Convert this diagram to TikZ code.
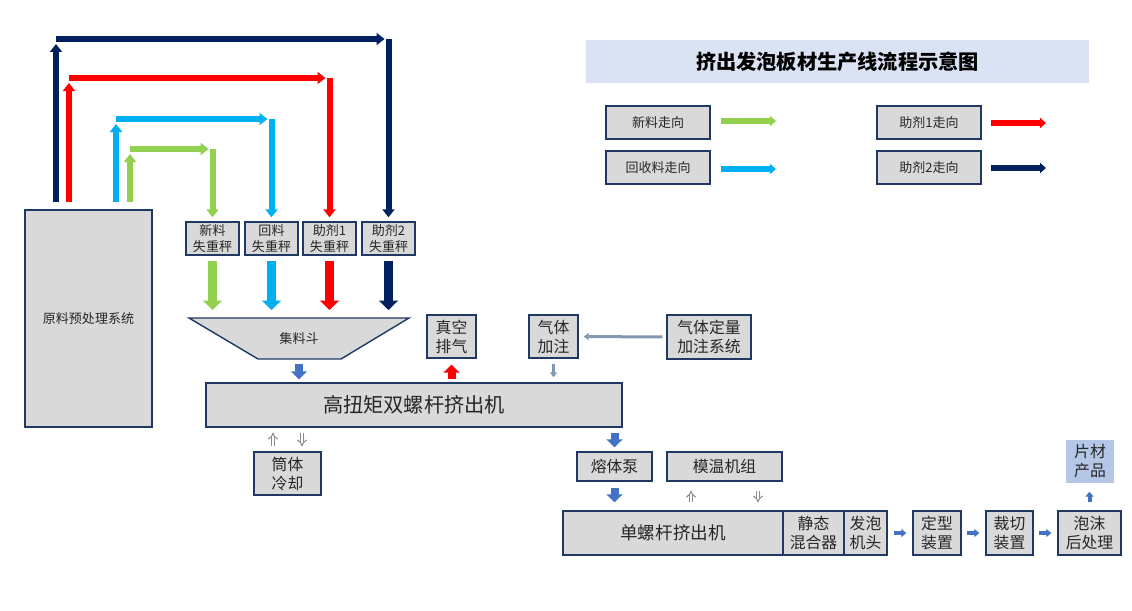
\documentclass[tikz,border=0pt]{standalone}
\usepackage{fontspec}
\setmainfont{Noto Sans CJK SC}
\usetikzlibrary{arrows.meta}
\definecolor{newgreen}{HTML}{92D050}
\definecolor{recblue}{HTML}{00B0F0}
\definecolor{addred}{HTML}{FF0000}
\definecolor{addnavy}{HTML}{002060}
\definecolor{flowblue}{HTML}{4472C4}
\definecolor{boxgray}{HTML}{D9D9D9}
\definecolor{boxline}{HTML}{203864}
\definecolor{gasgray}{HTML}{8497B0}
\definecolor{titlebg}{HTML}{DAE3F3}
\definecolor{productbg}{HTML}{B4C7E7}
\begin{document}
\begin{tikzpicture}[x=0.2mm,y=-0.2mm,
    box/.style={draw=boxline,line width=0.8pt,fill=boxgray,inner sep=0pt,align=center,
      text=black!85,font=\fontsize{9pt}{10.8pt}\selectfont},
    small/.style={font=\fontsize{7.4pt}{9pt}\selectfont},
    feed/.style={line width=1.8mm,-{Triangle[width=3.8mm,length=1.9mm]}},
    route/.style={line width=1.2mm,-{Triangle[width=2.4mm,length=1.6mm]}},
    flow/.style={flowblue,line width=1.6mm,-{Triangle[width=3.2mm,length=1.6mm]}},
    seq/.style={flowblue,line width=0.8mm,-{Triangle[width=1.6mm,length=1mm]}},
    legarrow/.style={line width=1.2mm,-{Triangle[width=2mm,length=1.2mm]}},
    gasline/.style={gasgray,line width=0.6mm,-{Triangle[width=1.4mm,length=1mm]}},
    hollow/.style={draw=black!45,double=white,double distance=1.3pt,line width=0.6pt,-{Implies}},
  ]
  \useasboundingbox (0,0) rectangle (1132,610);

  % title and legend
  \node[fill=titlebg,minimum width=100.6mm,minimum height=8.6mm,
    font=\bfseries\fontsize{11.5pt}{13pt}\selectfont] (title) at (837.5,61.5) {挤出发泡板材生产线流程示意图};
  \node[box,small,minimum width=20.8mm,minimum height=6.6mm] (legNew) at (658,122.5) {新料走向};
  \node[box,small,minimum width=20.8mm,minimum height=6.6mm] (legRec) at (658,167.5) {回收料走向};
  \node[box,small,minimum width=20.8mm,minimum height=6.6mm] (legAddA) at (929,122.5) {助剂1走向};
  \node[box,small,minimum width=20.8mm,minimum height=6.6mm] (legAddB) at (929,167.5) {助剂2走向};
  \coordinate (legNewEnd) at (776,121);
  \coordinate (legRecEnd) at (776,169);
  \coordinate (legAddAEnd) at (1046,123);
  \coordinate (legAddBEnd) at (1046,168);
  \draw[legarrow,newgreen,shorten <=2mm] (legNew.east |- legNewEnd) -- (legNewEnd);
  \draw[legarrow,recblue,shorten <=2mm] (legRec.east |- legRecEnd) -- (legRecEnd);
  \draw[legarrow,addred,shorten <=1.8mm] (legAddA.east |- legAddAEnd) -- (legAddAEnd);
  \draw[legarrow,addnavy,shorten <=1.8mm] (legAddB.east |- legAddBEnd) -- (legAddBEnd);

  % feeding section
  \node[box,small,minimum width=25.4mm,minimum height=43.4mm] (pre) at (88.5,318.5) {原料预处理系统};
  \node[box,small,minimum width=10.6mm,minimum height=6.6mm] (wNew) at (212.5,238.5) {新料\\失重秤};
  \node[box,small,minimum width=10.6mm,minimum height=6.6mm] (wRec) at (271.5,238.5) {回料\\失重秤};
  \node[box,small,minimum width=10.6mm,minimum height=6.6mm] (wAddA) at (329.5,238.5) {助剂1\\失重秤};
  \node[box,small,minimum width=10.6mm,minimum height=6.6mm] (wAddB) at (388.5,238.5) {助剂2\\失重秤};
  \draw[draw=boxline,line width=0.8pt,fill=boxgray] (189,318) -- (409,318) -- (341,359) -- (258,359) -- cycle;
  \node[small,text=black!85] (hop) at (299,339) {集料斗};
  \coordinate (hopTop) at (299,318);
  \coordinate (hopBottom) at (299,359);

  \coordinate (gStart) at (130,202);
  \coordinate (gTurn) at (130,149);
  \coordinate (rStart) at (116,202);
  \coordinate (rTurn) at (116,119);
  \coordinate (aStart) at (69,202);
  \coordinate (aTurn) at (69,78);
  \coordinate (bStart) at (56,202);
  \coordinate (bTurn) at (56,39);
  \foreach \s/\t/\w/\c in {g/gTurn/wNew/newgreen,r/rTurn/wRec/recblue,a/aTurn/wAddA/addred,b/bTurn/wAddB/addnavy}{
    \draw[route,\c,shorten >=1mm] (\s Start) -- (\t);
    \draw[route,\c,shorten >=0.8mm] (\t) -- (\w.north |- \t);
    \draw[route,\c,shorten >=0.8mm] (\w.north |- \t) -- (\w.north);
    \draw[feed,\c,shorten <=1mm,shorten >=1.6mm] (\w.south) -- (\w.south |- hopTop);
  }

  % twin screw extruder
  \node[box,font=\fontsize{11.5pt}{13pt}\selectfont,minimum width=83.2mm,minimum height=8.8mm] (tse) at (414,405) {高扭矩双螺杆挤出机};
  \node[box,minimum width=9.8mm,minimum height=8.6mm] (vac) at (451.5,336.5) {真空\\排气};
  \node[box,minimum width=9.8mm,minimum height=8.6mm] (gasIn) at (553.5,336.5) {气体\\加注};
  \node[box,minimum width=16.8mm,minimum height=8.8mm] (gasSys) at (709,337) {气体定量\\加注系统};
  \node[box,minimum width=13.4mm,minimum height=8.6mm] (cool) at (287.5,473.5) {筒体\\冷却};
  \draw[flow,shorten <=1mm,shorten >=0.6mm] (hopBottom) -- (hopBottom |- tse.north);
  \draw[flow,addred,shorten <=0.6mm,shorten >=1.2mm] (vac.south |- tse.north) -- (vac.south);
  \draw[gasline,shorten <=0.8mm,shorten >=1mm] (gasSys.west) -- (gasIn.east);
  \draw[gasline,shorten <=1mm,shorten >=1mm] (gasIn.south) -- (gasIn.south |- tse.north);
  \draw[hollow,shorten <=1mm,shorten >=1mm] ([xshift=-2.9mm]cool.north) -- ([xshift=-2.9mm]cool.north |- tse.south);
  \draw[hollow,shorten <=1mm,shorten >=1mm] ([xshift=2.9mm]cool.north |- tse.south) -- ([xshift=2.9mm]cool.north);

  % single screw line
  \node[box,minimum width=15mm,minimum height=5.8mm] (pump) at (614.5,466.5) {熔体泵};
  \node[box,minimum width=23mm,minimum height=5.8mm] (mold) at (724.5,466.5) {模温机组};
  \node[box,font=\fontsize{10pt}{12pt}\selectfont,minimum width=44mm,minimum height=8.8mm] (sse) at (673,533) {单螺杆挤出机};
  \node[box,minimum width=12.2mm,minimum height=8.8mm] (mixer) at (813.5,533) {静态\\混合器};
  \node[box,minimum width=8.6mm,minimum height=8.8mm] (die) at (865.5,533) {发泡\\机头};
  \node[box,minimum width=9.6mm,minimum height=8.8mm] (calib) at (937,533) {定型\\装置};
  \node[box,minimum width=9.4mm,minimum height=8.8mm] (cut) at (1009.5,533) {裁切\\装置};
  \node[box,minimum width=12.6mm,minimum height=8.8mm] (post) at (1089.5,533) {泡沫\\后处理};
  \node[box,draw=none,fill=productbg,minimum width=9.6mm,minimum height=8.6mm] (prod) at (1090,461.5) {片材\\产品};
  \draw[flow,shorten <=1mm,shorten >=0.8mm] (pump.north |- tse.south) -- (pump.north);
  \draw[flow,shorten <=1.2mm,shorten >=1.6mm] (pump.south) -- (pump.south |- sse.north);
  \draw[hollow,shorten <=1.6mm,shorten >=1.8mm] ([xshift=-6.7mm]mold.south |- sse.north) -- ([xshift=-6.7mm]mold.south);
  \draw[hollow,shorten <=1.8mm,shorten >=1.6mm] ([xshift=6.7mm]mold.south) -- ([xshift=6.7mm]mold.south |- sse.north);
  \draw[seq,shorten <=1.2mm,shorten >=1.2mm] (die) -- (calib);
  \draw[seq,shorten <=1mm,shorten >=1.2mm] (calib) -- (cut);
  \draw[seq,shorten <=1mm,shorten >=1.2mm] (cut) -- (post);
  \draw[seq,shorten <=1.6mm,shorten >=1.6mm] (post.north) -- (post.north |- prod.south);
\end{tikzpicture}
\end{document}
